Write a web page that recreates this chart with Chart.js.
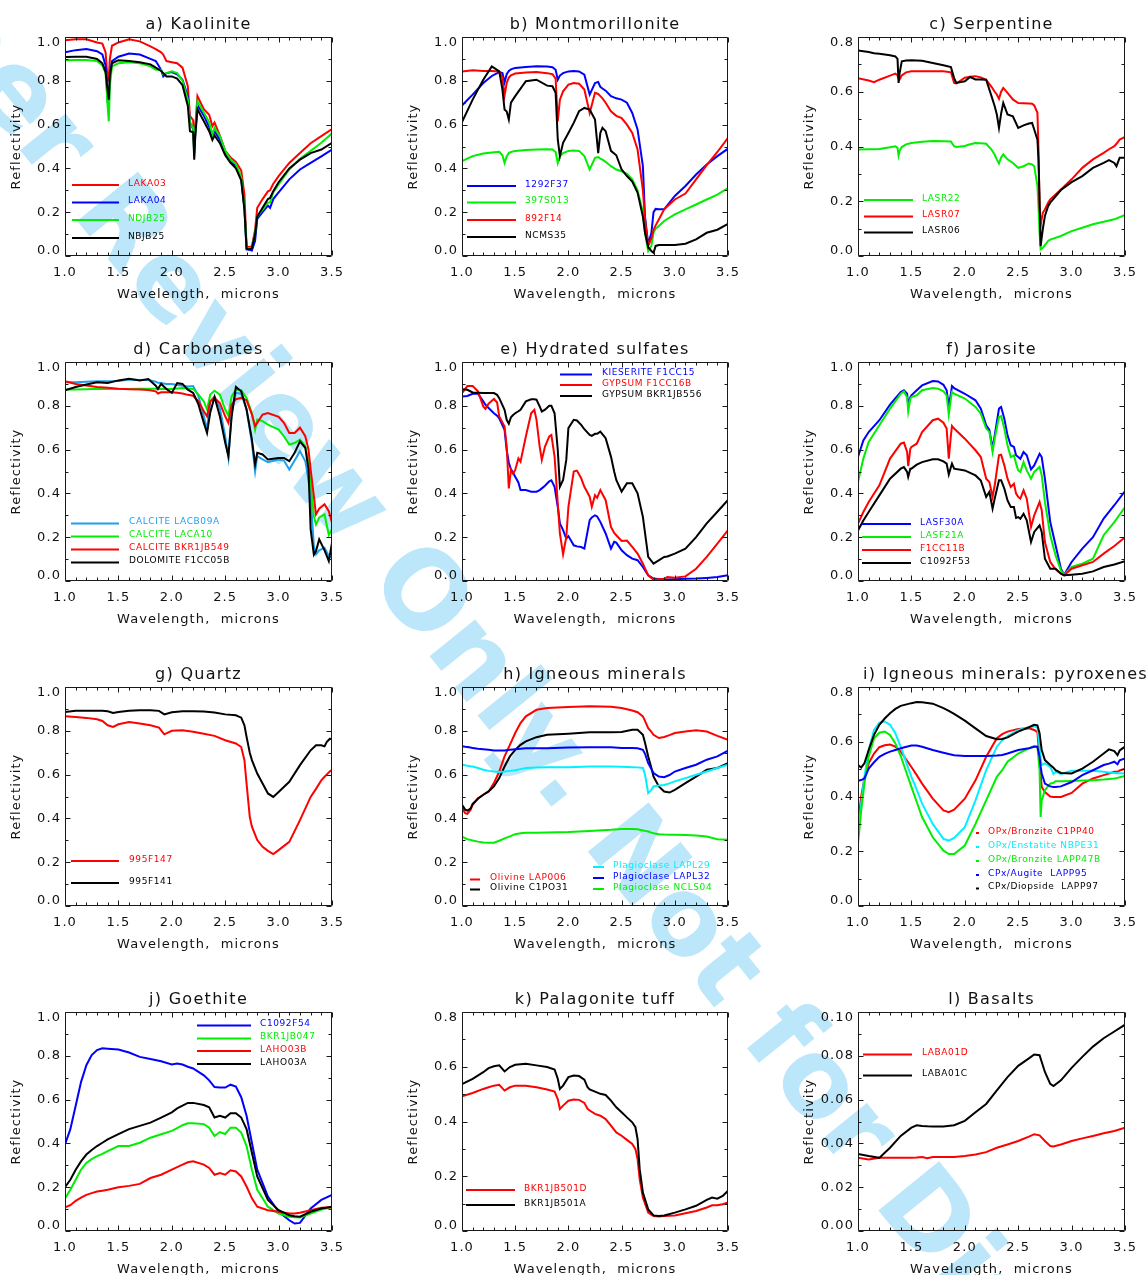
<!DOCTYPE html>
<html>
<head>
<meta charset="utf-8">
<script src="https://cdn.jsdelivr.net/npm/chart.js@4.4.1/dist/chart.umd.min.js"></script>
<style>
    html, body { margin: 0; padding: 0; background: #fff; }
    body { width: 1147px; height: 1275px; position: relative; overflow: hidden; }
    .mark {
        position: absolute; left: -96px; top: -106px; z-index: 0;
        font: bold 107px "DejaVu Sans", sans-serif; line-height: 1;
        color: #bce6fa; white-space: nowrap;
        transform-origin: 0 51px; transform: rotate(51deg);
    }
    canvas { position: absolute; z-index: 1; }
</style>
</head>
<body>
<div class="mark">Peer Review Only. Not for Distribution</div>
<script>
const xTicks = [1.0, 1.5, 2.0, 2.5, 3.0, 3.5];
const yTicks10 = [0, 0.2, 0.4, 0.6, 0.8, 1.0];
const yTicks08 = [0, 0.2, 0.4, 0.6, 0.8];
const yTicks01 = [0, 0.02, 0.04, 0.06, 0.08, 0.10];

// a) Kaolinite
const wlKaol = [1.0,1.1,1.2,1.3,1.35,1.38,1.4,1.41,1.42,1.44,
    1.5,1.6,1.7,1.8,1.85,1.9,1.92,1.95,2.0,2.05,
    2.1,2.15,2.17,2.2,2.21,2.22,2.24,2.3,2.35,2.38,
    2.4,2.45,2.5,2.55,2.6,2.65,2.68,2.7,2.72,2.75,
    2.78,2.8,2.85,2.9,2.92,2.95,3.0,3.1,3.2,3.3,
    3.4,3.5];
const kaolLAKA03 = [.985,.99,.99,.975,.97,.93,.80,.81,.90,.96,
    .975,.99,.98,.957,.945,.93,.92,.89,.885,.88,
    .86,.775,.64,.62,.50,.59,.73,.67,.645,.593,
    .61,.55,.48,.45,.43,.39,.28,.045,.04,.045,
    .12,.22,.26,.295,.30,.33,.365,.425,.47,.515,
    .547,.58];
const kaolLAKA04 = [.93,.94,.945,.935,.92,.87,.70,.68,.82,.89,
    .91,.925,.92,.90,.89,.85,.82,.835,.84,.83,
    .805,.73,.61,.58,.47,.56,.69,.64,.59,.55,
    .57,.53,.47,.43,.41,.35,.22,.03,.03,.025,
    .07,.17,.20,.23,.22,.26,.29,.35,.395,.425,
    .455,.486];
const kaolNDJB25 = [.894,.895,.895,.89,.87,.835,.68,.615,.775,.866,
    .88,.885,.88,.866,.85,.85,.83,.835,.843,.835,
    .80,.715,.61,.585,.455,.57,.707,.655,.61,.555,
    .585,.547,.48,.44,.42,.36,.22,.04,.035,.04,
    .106,.18,.213,.243,.245,.29,.327,.395,.444,.48,
    .517,.56];
const kaolNBJB25 = [.909,.91,.91,.90,.88,.84,.75,.714,.82,.88,
    .894,.89,.885,.875,.86,.845,.835,.82,.82,.81,
    .78,.685,.57,.565,.44,.55,.67,.615,.57,.53,
    .55,.515,.46,.425,.40,.345,.21,.035,.03,.035,
    .10,.18,.22,.26,.265,.296,.337,.40,.44,.47,
    .486,.517];

// b) Montmorillonite
const wlMont = [1.0,1.1,1.2,1.28,1.35,1.38,1.4,1.42,1.44,1.46,
    1.5,1.6,1.7,1.8,1.85,1.88,1.9,1.92,1.95,2.0,
    2.05,2.1,2.15,2.2,2.25,2.28,2.3,2.32,2.35,2.4,
    2.45,2.5,2.55,2.6,2.65,2.7,2.72,2.75,2.78,2.8,
    2.82,2.85,2.9,3.0,3.1,3.2,3.3,3.4,3.5];
const mont1292F37 = [.687,.737,.79,.822,.84,.835,.793,.83,.845,.852,
    .859,.863,.866,.865,.862,.85,.805,.824,.835,.843,
    .845,.843,.828,.737,.79,.795,.772,.765,.755,.73,
    .72,.714,.70,.653,.578,.41,.18,.053,.106,.20,
    .215,.213,.213,.274,.32,.372,.418,.456,.49];
const mont397S013 = [.433,.456,.468,.473,.476,.46,.425,.455,.47,.475,
    .48,.484,.486,.487,.486,.475,.425,.455,.47,.48,
    .482,.48,.456,.395,.448,.452,.445,.44,.43,.41,
    .395,.387,.375,.35,.30,.20,.106,.023,.046,.106,
    .125,.137,.16,.19,.213,.235,.258,.28,.31];
const mont892F14 = [.843,.848,.845,.845,.843,.815,.733,.79,.815,.825,
    .833,.838,.84,.835,.83,.81,.615,.714,.752,.783,
    .79,.787,.76,.653,.745,.74,.73,.72,.70,.661,
    .64,.63,.60,.562,.486,.30,.167,.046,.08,.12,
    .14,.167,.213,.258,.285,.35,.415,.475,.54];
const montNCMS35 = [.611,.714,.805,.866,.843,.76,.669,.66,.623,.70,
    .73,.798,.805,.778,.775,.745,.532,.456,.517,.562,
    .608,.661,.676,.669,.623,.47,.562,.585,.57,.48,
    .46,.395,.365,.34,.29,.18,.106,.04,.023,.015,
    .046,.05,.05,.05,.056,.076,.106,.12,.147];

// c) Serpentine
const wlSerp = [1.0,1.1,1.15,1.2,1.3,1.35,1.37,1.38,1.39,1.41,
    1.45,1.5,1.6,1.7,1.8,1.87,1.9,1.92,2.0,2.05,
    2.1,2.15,2.2,2.25,2.28,2.3,2.32,2.34,2.36,2.4,
    2.45,2.5,2.55,2.6,2.63,2.65,2.68,2.69,2.7,2.71,
    2.73,2.75,2.78,2.8,2.9,3.0,3.1,3.2,3.3,3.35,
    3.4,3.42,3.45,3.5];
const serpLASR22 = [.389,.39,.39,.391,.397,.401,.395,.367,.385,.398,
    .408,.413,.417,.42,.419,.418,.401,.398,.402,.408,
    .413,.412,.41,.389,.37,.353,.338,.36,.371,.353,
    .34,.322,.328,.338,.335,.328,.255,.18,.085,.024,
    .03,.04,.055,.06,.073,.091,.103,.116,.125,.13,
    .134,.137,.142,.15];
const serpLASR07 = [.649,.641,.635,.644,.659,.666,.66,.647,.645,.66,
    .671,.675,.675,.675,.675,.671,.632,.63,.651,.655,
    .657,.652,.644,.618,.60,.59,.574,.60,.614,.596,
    .572,.559,.558,.557,.556,.55,.523,.389,.18,.112,
    .158,.17,.195,.207,.243,.28,.322,.353,.377,.39,
    .401,.41,.425,.435];
const serpLASR06 = [.751,.745,.741,.739,.733,.729,.72,.632,.669,.711,
    .714,.715,.713,.705,.697,.69,.65,.632,.638,.654,
    .645,.645,.644,.584,.547,.517,.468,.52,.559,.517,
    .51,.468,.477,.484,.486,.462,.425,.35,.207,.036,
    .097,.146,.182,.195,.241,.27,.292,.322,.34,.35,
    .34,.328,.359,.359];

// d) Carbonates
const wlCarb = [1.0,1.1,1.2,1.3,1.4,1.5,1.6,1.7,1.78,1.85,
    1.87,1.9,1.95,2.0,2.05,2.1,2.15,2.2,2.25,2.3,
    2.33,2.36,2.4,2.45,2.5,2.53,2.56,2.6,2.65,2.7,
    2.75,2.78,2.8,2.85,2.9,3.0,3.05,3.1,3.15,3.2,
    3.25,3.28,3.3,3.33,3.35,3.38,3.43,3.47,3.5];
const carbLACB09A = [.907,.908,.91,.912,.912,.913,.92,.918,.918,.91,
    .905,.904,.90,.90,.895,.892,.888,.89,.843,.752,
    .691,.82,.843,.79,.661,.562,.767,.859,.855,.783,
    .631,.50,.57,.555,.543,.555,.55,.509,.55,.593,
    .547,.46,.388,.16,.122,.14,.152,.114,.106];
const carbLACA10 = [.874,.874,.876,.878,.877,.877,.877,.878,.878,.878,
    .876,.878,.877,.877,.879,.881,.879,.877,.851,.82,
    .783,.851,.869,.851,.783,.755,.843,.874,.871,.836,
    .767,.691,.737,.73,.714,.691,.661,.623,.63,.646,
    .616,.54,.448,.296,.258,.29,.304,.21,.236];
const carbBKR1JB549 = [.912,.90,.893,.886,.882,.878,.876,.874,.872,.866,
    .856,.862,.862,.862,.86,.856,.85,.846,.82,.775,
    .752,.82,.836,.813,.752,.722,.805,.83,.836,.825,
    .76,.707,.722,.76,.767,.75,.722,.676,.676,.70,
    .661,.60,.509,.388,.304,.33,.35,.319,.266];
const carbF1CC05B = [.871,.886,.897,.907,.904,.916,.924,.916,.922,.892,
    .877,.90,.877,.859,.904,.90,.874,.859,.805,.722,
    .676,.77,.84,.752,.631,.57,.75,.886,.866,.783,
    .646,.532,.585,.578,.555,.562,.562,.547,.585,.638,
    .608,.509,.236,.12,.137,.19,.14,.091,.175];

// e) Hydrated sulfates
const wlSulf = [1.0,1.05,1.1,1.15,1.2,1.22,1.25,1.3,1.33,1.35,
    1.4,1.42,1.44,1.46,1.48,1.5,1.53,1.55,1.6,1.65,
    1.68,1.7,1.73,1.75,1.78,1.82,1.84,1.87,1.9,1.92,
    1.95,1.98,2.0,2.05,2.08,2.12,2.15,2.2,2.22,2.25,
    2.27,2.3,2.35,2.4,2.43,2.45,2.5,2.55,2.6,2.65,
    2.7,2.75,2.8,2.9,2.93,3.0,3.1,3.2,3.3,3.4,
    3.5];
const sulfF1CC15 = [.843,.845,.855,.855,.82,.805,.79,.766,.755,.743,
    .69,.598,.54,.51,.495,.476,.45,.415,.415,.408,
    .408,.408,.415,.423,.435,.455,.46,.43,.339,.263,
    .232,.194,.205,.163,.158,.155,.148,.278,.29,.30,
    .295,.27,.217,.148,.179,.175,.14,.118,.102,.095,
    .064,.026,.011,.006,.007,.008,.01,.011,.014,.018,
    .026];
const sulfF1CC16B = [.858,.89,.89,.866,.797,.786,.81,.831,.815,.751,
    .705,.614,.423,.507,.49,.507,.56,.545,.66,.766,
    .782,.736,.614,.553,.614,.66,.667,.568,.354,.217,
    .122,.20,.339,.50,.504,.469,.43,.385,.339,.392,
    .38,.415,.369,.247,.22,.209,.183,.185,.156,.125,
    .079,.026,.006,.01,.018,.015,.021,.056,.11,.171,
    .232];
const sulfBKR1JB556 = [.876,.873,.861,.86,.858,.858,.858,.858,.85,.835,
    .782,.736,.718,.748,.758,.766,.775,.782,.82,.83,
    .83,.828,.797,.774,.782,.80,.80,.766,.598,.43,
    .461,.553,.698,.736,.733,.713,.693,.667,.663,.672,
    .672,.682,.652,.568,.50,.461,.408,.446,.446,.40,
    .293,.11,.079,.11,.112,.125,.148,.20,.263,.316,
    .37];

// f) Jarosite
const wlJaro = [1.0,1.05,1.1,1.2,1.3,1.4,1.43,1.46,1.47,1.49,
    1.5,1.55,1.6,1.7,1.75,1.8,1.83,1.85,1.87,1.88,
    1.9,2.0,2.1,2.15,2.2,2.23,2.26,2.28,2.32,2.34,
    2.37,2.4,2.43,2.46,2.48,2.5,2.52,2.55,2.58,2.62,
    2.65,2.7,2.72,2.75,2.8,2.85,2.9,2.93,3.0,3.1,
    3.2,3.3,3.4,3.5];
const jaroLASF30A = [.566,.642,.68,.734,.805,.863,.871,.855,.802,.84,
    .848,.871,.893,.913,.911,.896,.871,.802,.855,.89,
    .881,.855,.825,.787,.711,.69,.604,.665,.787,.795,
    .741,.665,.62,.612,.574,.566,.558,.589,.574,.51,
    .528,.581,.566,.467,.269,.163,.056,.029,.087,.148,
    .20,.285,.346,.411];
const jaroLASF21A = [.452,.559,.635,.711,.787,.855,.866,.838,.775,.833,
    .84,.848,.871,.881,.878,.866,.848,.76,.833,.863,
    .855,.833,.795,.764,.696,.681,.589,.65,.749,.753,
    .696,.62,.566,.574,.536,.505,.498,.543,.505,.467,
    .498,.521,.483,.361,.209,.117,.049,.029,.064,.079,
    .102,.209,.269,.338];
const jaroF1CC11B = [.262,.315,.361,.437,.559,.627,.632,.589,.525,.604,
    .612,.627,.68,.734,.741,.723,.696,.559,.665,.708,
    .696,.65,.597,.566,.467,.452,.384,.437,.574,.577,
    .528,.467,.429,.444,.399,.384,.376,.414,.376,.247,
    .30,.361,.323,.178,.087,.053,.033,.026,.056,.072,
    .087,.125,.16,.20];
const jaroC1092F53 = [.231,.276,.315,.391,.467,.513,.52,.498,.475,.513,
    .513,.531,.543,.556,.556,.546,.536,.486,.52,.536,
    .513,.505,.482,.459,.384,.407,.33,.376,.46,.46,
    .422,.368,.338,.338,.288,.292,.284,.307,.277,.178,
    .224,.254,.224,.102,.056,.056,.033,.026,.029,.033,
    .044,.064,.075,.09];

// g) Quartz
const wlQtz = [1.0,1.1,1.2,1.3,1.35,1.4,1.45,1.5,1.6,1.7,
    1.8,1.88,1.93,2.0,2.1,2.2,2.3,2.4,2.5,2.6,
    2.65,2.68,2.7,2.73,2.75,2.8,2.85,2.9,2.95,3.0,
    3.1,3.2,3.3,3.35,3.4,3.43,3.45,3.48,3.5];
const qtz995F147 = [.866,.863,.859,.853,.845,.825,.818,.83,.84,.833,
    .825,.815,.784,.80,.802,.796,.787,.777,.757,.742,
    .726,.666,.559,.407,.362,.301,.27,.252,.237,.255,
    .293,.392,.498,.535,.574,.59,.60,.615,.62];
const qtz995F141 = [.886,.891,.891,.891,.891,.889,.881,.886,.892,.894,
    .894,.891,.875,.885,.889,.889,.888,.884,.875,.871,
    .86,.825,.772,.70,.666,.605,.559,.514,.498,.521,
    .567,.643,.711,.734,.734,.729,.749,.764,.76];

// h) Igneous minerals
const wlIgn = [1.0,1.03,1.05,1.08,1.1,1.15,1.2,1.25,1.3,1.35,
    1.4,1.45,1.5,1.55,1.6,1.7,1.8,2.0,2.2,2.4,
    2.5,2.6,2.65,2.7,2.72,2.75,2.78,2.8,2.85,2.9,
    2.95,3.0,3.1,3.2,3.3,3.4,3.5];
const ignLAP006 = [.447,.424,.421,.439,.462,.492,.508,.523,.561,.614,
    .683,.736,.79,.835,.866,.896,.904,.909,.912,.91,
    .904,.893,.885,.866,.845,.812,.795,.782,.767,.772,
    .78,.79,.797,.802,.797,.777,.759];
const ignC1PO31 = [.462,.44,.436,.445,.466,.49,.508,.523,.546,.584,
    .637,.683,.713,.736,.752,.771,.782,.787,.793,.793,
    .795,.805,.805,.782,.745,.683,.63,.591,.546,.523,
    .518,.53,.561,.591,.622,.63,.652];
const ignLAPL29 = [.645,.643,.64,.638,.637,.63,.622,.617,.614,.612,
    .614,.617,.62,.625,.63,.632,.634,.634,.637,.637,
    .636,.634,.633,.63,.60,.515,.53,.546,.55,.553,
    .56,.569,.584,.599,.614,.63,.645];
const ignLAPL32 = [.729,.727,.726,.724,.721,.718,.716,.713,.71,.71,
    .71,.713,.716,.718,.72,.72,.72,.724,.725,.725,
    .722,.722,.72,.713,.695,.652,.625,.607,.591,.588,
    .598,.614,.63,.645,.668,.683,.71];
const ignNCLS04 = [.317,.31,.305,.302,.299,.294,.29,.289,.289,.298,
    .309,.318,.328,.332,.335,.335,.336,.338,.343,.348,
    .352,.352,.35,.345,.343,.34,.335,.332,.328,.326,
    .325,.325,.324,.322,.317,.305,.302];

// i) Igneous minerals: pyroxenes
const wlPyx = [1.0,1.03,1.06,1.1,1.15,1.2,1.25,1.3,1.35,1.4,
    1.5,1.55,1.6,1.7,1.8,1.85,1.9,2.0,2.1,2.2,
    2.3,2.35,2.4,2.5,2.6,2.65,2.68,2.7,2.71,2.72,
    2.75,2.8,2.83,2.85,2.9,3.0,3.1,3.2,3.3,3.35,
    3.4,3.43,3.45,3.5];
const pyxC1PP40 = [.30,.40,.466,.521,.557,.58,.587,.59,.582,.564,
    .508,.478,.447,.392,.349,.343,.352,.392,.459,.545,
    .613,.628,.637,.647,.649,.643,.635,.533,.48,.435,
    .416,.40,.398,.398,.398,.413,.447,.466,.478,.484,
    .49,.49,.495,.502];
const pyxNBPE31 = [.257,.374,.472,.57,.643,.67,.674,.662,.631,.582,
    .472,.425,.374,.30,.245,.239,.249,.288,.386,.496,
    .582,.605,.621,.643,.653,.656,.652,.582,.54,.515,
    .521,.508,.482,.49,.482,.494,.494,.494,.49,.488,
    .486,.485,.485,.484];
const pyxLAPP47B = [.227,.349,.447,.545,.613,.633,.637,.625,.594,.548,
    .435,.38,.325,.251,.202,.19,.19,.221,.30,.386,
    .472,.496,.527,.557,.576,.584,.582,.496,.325,.386,
    .423,.447,.45,.456,.456,.457,.458,.459,.462,.464,
    .466,.468,.47,.475];
const pyxLAPP95 = [.457,.46,.466,.502,.525,.545,.556,.564,.57,.576,
    .586,.586,.582,.57,.56,.555,.551,.548,.548,.548,
    .55,.552,.557,.57,.576,.582,.582,.545,.51,.484,
    .447,.437,.435,.435,.437,.453,.478,.496,.515,.52,
    .527,.518,.532,.539];
const pyxLAPP97 = [.515,.506,.521,.57,.625,.662,.685,.704,.72,.731,
    .741,.745,.744,.739,.723,.713,.702,.677,.649,.621,
    .609,.61,.616,.637,.653,.662,.66,.631,.60,.57,
    .533,.515,.505,.496,.486,.484,.502,.527,.557,.572,
    .566,.551,.568,.582];

// j) Goethite
const wlGoe = [1.0,1.05,1.1,1.15,1.2,1.25,1.3,1.35,1.4,1.5,
    1.6,1.7,1.8,1.9,2.0,2.05,2.1,2.15,2.2,2.3,
    2.35,2.4,2.45,2.5,2.55,2.6,2.65,2.7,2.75,2.8,
    2.9,3.0,3.1,3.15,3.2,3.3,3.4,3.5];
const goeC1092F54 = [.395,.465,.572,.68,.757,.803,.826,.834,.832,.829,
    .815,.795,.785,.775,.76,.765,.76,.75,.742,.711,
    .688,.657,.655,.655,.668,.66,.611,.526,.403,.28,
    .157,.088,.049,.034,.037,.103,.142,.165];
const goeBKR1JB047 = [.149,.188,.234,.28,.311,.328,.342,.352,.365,.388,
    .388,.403,.426,.442,.457,.47,.483,.492,.492,.488,
    .472,.434,.452,.443,.472,.472,.449,.388,.28,.188,
    .111,.08,.065,.063,.062,.08,.098,.108];
const goeLAHO03B = [.108,.118,.138,.152,.165,.173,.18,.184,.188,.20,
    .206,.215,.242,.257,.28,.292,.303,.314,.318,.303,
    .288,.257,.265,.257,.277,.272,.249,.203,.149,.111,
    .095,.088,.08,.08,.083,.095,.106,.108];
const goeLAHO03A = [.20,.234,.28,.318,.349,.37,.388,.403,.418,.442,
    .465,.48,.495,.518,.542,.56,.572,.585,.585,.575,
    .565,.518,.526,.518,.538,.538,.518,.465,.357,.249,
    .142,.095,.072,.067,.065,.088,.103,.111];

// k) Palagonite tuff
const wlPal = [1.0,1.1,1.2,1.25,1.3,1.35,1.4,1.45,1.5,1.6,
    1.7,1.8,1.87,1.9,1.92,1.95,2.0,2.05,2.1,2.15,
    2.18,2.2,2.25,2.3,2.35,2.4,2.45,2.5,2.55,2.6,
    2.63,2.65,2.67,2.7,2.75,2.8,2.85,2.9,3.0,3.1,
    3.2,3.3,3.35,3.4,3.45,3.5];
const palBKR1JB501D = [.492,.504,.519,.525,.531,.534,.513,.525,.531,.531,
    .525,.517,.509,.482,.446,.458,.476,.48,.479,.468,
    .446,.44,.428,.421,.409,.385,.36,.348,.333,.318,
    .299,.263,.189,.122,.067,.055,.053,.055,.057,.065,
    .073,.086,.094,.094,.098,.104];
const palBKR1JB501A = [.537,.556,.58,.595,.602,.605,.583,.599,.607,.611,
    .605,.599,.59,.556,.519,.531,.562,.568,.566,.553,
    .525,.517,.509,.501,.497,.476,.452,.434,.415,.397,
    .379,.336,.226,.14,.079,.057,.055,.057,.067,.079,
    .092,.114,.122,.118,.128,.147];

// l) Basalts
const wlBas = [1.0,1.1,1.2,1.25,1.3,1.4,1.5,1.55,1.6,1.65,
    1.7,1.8,1.9,2.0,2.1,2.2,2.3,2.4,2.5,2.6,
    2.65,2.7,2.75,2.8,2.83,2.9,3.0,3.1,3.2,3.3,
    3.4,3.5];
const basLABA01D = [.0334,.0326,.0334,.0334,.0334,.0334,.0335,.0336,.0338,.0332,
    .0338,.0338,.0338,.0342,.0349,.036,.038,.0395,.0411,.0431,
    .0442,.0437,.0411,.0388,.0386,.0395,.0411,.0423,.0434,.0446,
    .0457,.0472];
const basLABA01C = [.0352,.0342,.0334,.0357,.038,.0434,.0472,.0483,.048,.0478,
    .0477,.0477,.0483,.0503,.0542,.058,.0642,.0703,.0754,.0788,
    .0806,.0803,.0726,.0672,.0662,.0688,.0745,.0795,.0842,.088,
    .0911,.0942];

const RED = "#ff0000", BLUE = "#0000ff", GREEN = "#00ee00", BLACK = "#000000",
    CYAN = "#00f0ff", SKY = "#1ea0f0", INK = "#111";

// key: [line start, line end, text x, y] relative to the plot's top-left corner
const panels = [
    { title: "a) Kaolinite", col: 0, row: 0, wl: wlKaol, yTicks: yTicks10, digits: 1, series: [
        { name: "LAKA03", color: RED, ys: kaolLAKA03, key: [7, 54, 63, 148] },
        { name: "LAKA04", color: BLUE, ys: kaolLAKA04, key: [7, 54, 63, 165.5] },
        { name: "NDJB25", color: GREEN, ys: kaolNDJB25, key: [7, 54, 63, 183] },
        { name: "NBJB25", color: BLACK, ys: kaolNBJB25, key: [7, 54, 63, 201] },
    ] },
    { title: "b) Montmorillonite", col: 1, row: 0, wl: wlMont, yTicks: yTicks10, digits: 1, series: [
        { name: "1292F37", color: BLUE, ys: mont1292F37, key: [5, 54, 63, 149] },
        { name: "397S013", color: GREEN, ys: mont397S013, key: [5, 54, 63, 165.5] },
        { name: "892F14", color: RED, ys: mont892F14, key: [5, 54, 63, 183] },
        { name: "NCMS35", color: BLACK, ys: montNCMS35, key: [5, 54, 63, 200] },
    ] },
    { title: "c) Serpentine", col: 2, row: 0, wl: wlSerp, yTicks: yTicks08, digits: 1, series: [
        { name: "LASR22", color: GREEN, ys: serpLASR22, key: [6, 55, 64, 163] },
        { name: "LASR07", color: RED, ys: serpLASR07, key: [6, 55, 64, 179.5] },
        { name: "LASR06", color: BLACK, ys: serpLASR06, key: [6, 55, 64, 195.5] },
    ] },
    { title: "d) Carbonates", col: 0, row: 1, wl: wlCarb, yTicks: yTicks10, digits: 1, series: [
        { name: "CALCITE LACB09A", color: SKY, ys: carbLACB09A, key: [6, 54, 64, 161.5] },
        { name: "CALCITE LACA10", color: GREEN, ys: carbLACA10, key: [6, 54, 64, 174.5] },
        { name: "CALCITE BKR1JB549", color: RED, ys: carbBKR1JB549, key: [6, 54, 64, 187.5] },
        { name: "DOLOMITE F1CC05B", color: BLACK, ys: carbF1CC05B, key: [6, 54, 64, 200.5] },
    ] },
    { title: "e) Hydrated sulfates", col: 1, row: 1, wl: wlSulf, yTicks: yTicks10, digits: 1, series: [
        { name: "KIESERITE F1CC15", color: BLUE, ys: sulfF1CC15, key: [98, 130, 140, 12.5] },
        { name: "GYPSUM F1CC16B", color: RED, ys: sulfF1CC16B, key: [98, 130, 140, 23] },
        { name: "GYPSUM BKR1JB556", color: BLACK, ys: sulfBKR1JB556, key: [98, 130, 140, 34] },
    ] },
    { title: "f) Jarosite", col: 2, row: 1, wl: wlJaro, yTicks: yTicks10, digits: 1, series: [
        { name: "LASF30A", color: BLUE, ys: jaroLASF30A, key: [4, 53, 62, 162] },
        { name: "LASF21A", color: GREEN, ys: jaroLASF21A, key: [4, 53, 62, 175] },
        { name: "F1CC11B", color: RED, ys: jaroF1CC11B, key: [4, 53, 62, 188] },
        { name: "C1092F53", color: BLACK, ys: jaroC1092F53, key: [4, 53, 62, 201] },
    ] },
    { title: "g) Quartz", col: 0, row: 2, wl: wlQtz, yTicks: yTicks10, digits: 1, series: [
        { name: "995F147", color: RED, ys: qtz995F147, key: [6, 54, 64, 174] },
        { name: "995F141", color: BLACK, ys: qtz995F141, key: [6, 54, 64, 196] },
    ] },
    { title: "h) Igneous minerals", col: 1, row: 2, wl: wlIgn, yTicks: yTicks10, digits: 1, series: [
        { name: "Olivine LAP006", color: RED, ys: ignLAP006, key: [8, 18, 28, 192.5] },
        { name: "Olivine C1PO31", color: BLACK, ys: ignC1PO31, key: [8, 18, 28, 202.5] },
        { name: "Plagioclase LAPL29", color: CYAN, ys: ignLAPL29, key: [131, 142, 151, 180] },
        { name: "Plagioclase LAPL32", color: BLUE, ys: ignLAPL32, key: [131, 142, 151, 191] },
        { name: "Plagioclase NCLS04", color: GREEN, ys: ignNCLS04, key: [131, 142, 151, 202] },
    ] },
    { title: "i) Igneous minerals: pyroxenes", col: 2, row: 2, wl: wlPyx, yTicks: yTicks08, digits: 1, shift: 14, series: [
        { name: "OPx/Bronzite C1PP40", color: RED, ys: pyxC1PP40, key: [118, 121, 130, 146] },
        { name: "OPx/Enstatite NBPE31", color: CYAN, ys: pyxNBPE31, key: [118, 121, 130, 160] },
        { name: "OPx/Bronzite LAPP47B", color: GREEN, ys: pyxLAPP47B, key: [118, 121, 130, 174] },
        { name: "CPx/Augite  LAPP95", color: BLUE, ys: pyxLAPP95, key: [118, 121, 130, 188] },
        { name: "CPx/Diopside  LAPP97", color: BLACK, ys: pyxLAPP97, key: [118, 121, 130, 201.5] },
    ] },
    { title: "j) Goethite", col: 0, row: 3, wl: wlGoe, yTicks: yTicks10, digits: 1, series: [
        { name: "C1092F54", color: BLUE, ys: goeC1092F54, key: [132, 186, 195, 13.5] },
        { name: "BKR1JB047", color: GREEN, ys: goeBKR1JB047, key: [132, 186, 195, 26.5] },
        { name: "LAHO03B", color: RED, ys: goeLAHO03B, key: [132, 186, 195, 39] },
        { name: "LAHO03A", color: BLACK, ys: goeLAHO03A, key: [132, 186, 195, 52] },
    ] },
    { title: "k) Palagonite tuff", col: 1, row: 3, wl: wlPal, yTicks: yTicks08, digits: 1, series: [
        { name: "BKR1JB501D", color: RED, ys: palBKR1JB501D, key: [4, 53, 62, 178] },
        { name: "BKR1JB501A", color: BLACK, ys: palBKR1JB501A, key: [4, 53, 62, 193] },
    ] },
    { title: "l) Basalts", col: 2, row: 3, wl: wlBas, yTicks: yTicks01, digits: 2, series: [
        { name: "LABA01D", color: RED, ys: basLABA01D, key: [5, 54, 64, 42.5] },
        { name: "LABA01C", color: BLACK, ys: basLABA01C, key: [5, 54, 64, 63.5] },
    ] },
];

const colLeft = [65, 462, 858], colWidth = [274, 273, 274];
const rowTop = [37, 362, 687, 1012], plotH = 219;
const AXIS_W = 65, AXIS_H = 52, TOP = 38, RIGHT = 14;
const END_INSET = 5.5;   // IDL pulls the end y labels inside the frame
const FONT = '"DejaVu Sans", sans-serif';

// IDL look: closed frame, inward ticks on all four sides, title and in-plot key
function idl(p) {
    const setSpacing = chart => { chart.ctx.letterSpacing = "1.1px"; };
    return {
        id: "idl",
        beforeLayout: setSpacing,
        beforeDraw: setSpacing,
        afterDraw(chart) {
            const { ctx, chartArea: a, scales: { x, y } } = chart;
            const L = Math.round(a.left) + 0.5, R = Math.round(a.right) - 0.5,
                T = Math.round(a.top) + 0.5, B = Math.round(a.bottom) - 0.5;
            ctx.save();
            ctx.letterSpacing = "0px";
            ctx.strokeStyle = "#1a1a1a";
            ctx.lineWidth = 1;
            ctx.beginPath();
            ctx.rect(L, T, R - L, B - T);
            const xt = (v, len) => {
                const px = Math.round(x.getPixelForValue(v)) + 0.5;
                ctx.moveTo(px, B); ctx.lineTo(px, B - len);
                ctx.moveTo(px, T); ctx.lineTo(px, T + len);
            };
            const yt = (v, len) => {
                const py = Math.round(y.getPixelForValue(v)) + 0.5;
                ctx.moveTo(L, py); ctx.lineTo(L + len, py);
                ctx.moveTo(R, py); ctx.lineTo(R - len, py);
            };
            xTicks.forEach((v, i) => {
                xt(v, 5);
                if (i < xTicks.length - 1) for (let k = 1; k < 5; k++) xt(v + (xTicks[i + 1] - v) * k / 5, 3);
            });
            p.yTicks.forEach((v, i) => {
                yt(v, 5);
                if (i < p.yTicks.length - 1) yt((v + p.yTicks[i + 1]) / 2, 3);
            });
            ctx.stroke();

            ctx.fillStyle = INK;
            ctx.font = "16px " + FONT;
            ctx.letterSpacing = "1.3px";
            ctx.textAlign = "center";
            ctx.textBaseline = "middle";
            ctx.fillText(p.title, (a.left + a.right) / 2 + (p.shift || 0), a.top - 12.5);

            ctx.font = "9px " + FONT;
            ctx.letterSpacing = "0.6px";
            ctx.textAlign = "left";
            ctx.lineWidth = 2;
            p.series.forEach(s => {
                const [x0, x1, tx, ky] = s.key;
                ctx.strokeStyle = s.color;
                ctx.beginPath();
                ctx.moveTo(a.left + x0, a.top + ky);
                ctx.lineTo(a.left + x1, a.top + ky);
                ctx.stroke();
                ctx.fillStyle = s.color;
                ctx.fillText(s.name, a.left + tx, a.top + ky - 1.5);
            });
            ctx.restore();
        }
    };
}

panels.forEach(p => {
    const canvas = document.createElement("canvas");
    canvas.width = AXIS_W + colWidth[p.col] + RIGHT;
    canvas.height = TOP + plotH + AXIS_H;
    canvas.style.left = (colLeft[p.col] - AXIS_W) + "px";
    canvas.style.top = (rowTop[p.row] - TOP) + "px";
    document.body.appendChild(canvas);

    p.series.forEach(s => {
        if (s.ys.length !== p.wl.length) throw new Error(p.title + " " + s.name + ": " + s.ys.length + " vs " + p.wl.length);
    });

    const yMax = p.yTicks[p.yTicks.length - 1];
    const inset = END_INSET / plotH * yMax;
    const tickFont = { family: FONT, size: 13 };
    new Chart(canvas, {
        type: "line",
        data: {
            datasets: p.series.map((s, k) => ({
                label: s.name,
                data: p.wl.map((w, j) => ({ x: w, y: s.ys[j] })),
                borderColor: s.color,
                borderWidth: 2,
                pointRadius: 0,
                tension: 0,
                fill: false,
                order: p.series.length - k,
            }))
        },
        options: {
            responsive: false,
            animation: false,
            events: [],
            layout: { padding: { left: 0, top: TOP, right: RIGHT, bottom: 0 } },
            plugins: { legend: { display: false }, tooltip: { enabled: false }, title: { display: false } },
            scales: {
                x: {
                    type: "linear", min: xTicks[0], max: xTicks[xTicks.length - 1],
                    afterBuildTicks: sc => { sc.ticks = xTicks.map(v => ({ value: v })); },
                    afterFit: sc => { sc.height = AXIS_H; },
                    grid: { display: false, drawTicks: false },
                    border: { display: false },
                    ticks: { font: tickFont, color: INK, padding: 9, autoSkip: false, maxRotation: 0, callback: v => v.toFixed(1) },
                    title: { display: true, text: "Wavelength,  microns", font: tickFont, color: INK, padding: { top: 0, bottom: 6 } }
                },
                y: {
                    type: "linear", min: 0, max: yMax,
                    afterBuildTicks: sc => {
                        const n = p.yTicks.length - 1;
                        sc.ticks = p.yTicks.map((v, i) => ({ value: i === 0 ? v + inset : i === n ? v - inset : v }));
                    },
                    afterFit: sc => { sc.width = AXIS_W; },
                    grid: { display: false, drawTicks: false },
                    border: { display: false },
                    ticks: { font: tickFont, color: INK, padding: 4, autoSkip: false, callback: (v, i) => p.yTicks[i].toFixed(p.digits) },
                    title: { display: true, text: "Reflectivity", font: tickFont, color: INK, padding: { top: 9, bottom: 0 } }
                }
            }
        },
        plugins: [idl(p)]
    });
});
</script>
</body>
</html>
